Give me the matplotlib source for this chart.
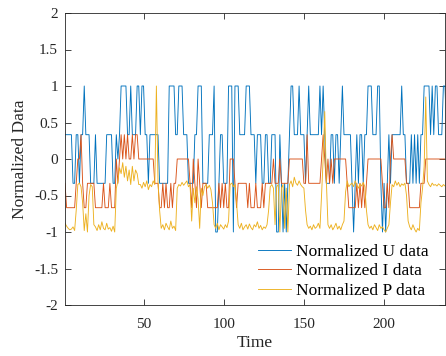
import matplotlib
matplotlib.use("Agg")
import matplotlib.pyplot as plt
import numpy as np

# normalized U data (239 samples)
u_data = [
    0.333, 0.333, 0.333, 0.333, 0.333, -0.333, -0.333, 0.333, 0.333, -0.333,
    0.333, 0.333, 1, 0.333, 0.333, 0.333, -0.333, -0.333, -0.333, 0.333,
    -0.333, -0.333, -0.333, -0.333, -0.333, -0.333, 0.333, 0.333, 0.333, 0.333,
    -0.333, -0.333, 0.333, 0, 0.333, 1, 1, 1, 1, 0.333,
    0.333, 1, 0.333, 0.333, 0.333, 1, 1, 0.333, 1, 1,
    0.333, 0.333, -0.333, 0.333, 0.333, 0.333, 0.333, 0.333, 0.333, -0.333,
    -0.333, -0.333, -0.333, -0.333, -0.333, 1, 1, 1, 1, 0.333,
    0.333, 1, 1, 1, 0.333, 0.333, 0.333, -0.333, -0.333, -0.333,
    -0.333, 0.333, 0.333, 1, 1, 1, -0.333, -0.333, -0.333, -0.333,
    0.333, 0.333, 0.333, 1, -1, -1, -0.333, 0.333, 0.333, -0.333,
    -0.333, -0.333, 1, 1, 1, -1, 1, 1, 1, 0.333,
    0.333, 0.333, 0.333, 1, 1, 1, 0.333, 0.333, 0.333, -0.333,
    0.333, 0.333, 0.333, -0.333, -0.333, 0.333, 0.333, -0.333, -0.333, 0.333,
    0.333, 0.333, -1, -1, 0.333, -0.333, -1, -0.333, -1, -0.333,
    0.333, 1, 1, 0.333, 0.333, 0.333, 1, 0.333, 0.333, 0.333,
    -0.333, 0.333, 1, 0.333, 0.333, 0.333, 0.333, 0.333, 0.333, 1,
    0.333, 1, 0.333, -0.333, -0.333, -0.333, 0.333, 0.333, -0.333, 0.333,
    0.333, -0.333, 0.333, 1, 0.333, 0.333, 0.333, 0.333, 0.333, -0.333,
    -1, -0.333, 0.333, -0.333, 0.333, 0.333, -0.333, 0.333, 0.333, 1,
    1, 1, 0.333, 0.333, 0.333, 1, 1, -0.333, -1, -0.333,
    -1, -0.333, 0.333, -0.333, 0.333, 0.333, 0.333, 0.333, 0.333, 0.333,
    1, 0.333, 0.333, -0.333, -0.333, -0.333, 0.333, -0.333, 0.333, -0.333,
    0.333, -0.333, 0.333, 0.333, 1, 1, 1, 1, 0.333, 1,
    0.333, 1, 1, 0.333, 0.333, 0.333, 1, 1, 0.333,
]

# normalized I data
i_data = [
    -0.333, -0.667, -0.667, -0.667, -0.667, -0.667, -0.667, -0.333, 0, 0,
    0.333, -0.333, -0.667, -0.667, -0.333, -0.333, -0.333, -0.333, -0.333, -0.667,
    -0.667, -0.667, -0.667, -0.667, -0.333, -0.667, -0.667, -0.667, -0.333, -0.667,
    -0.667, -0.667, 0, -0.333, 0, 0.333, 0, 0.333, 0, 0.333,
    0, 0, 0.333, 0, 0.333, 0.333, 0, 0, 0, 0,
    0, 0, 0, 0, 0, 0, -0.333, -0.333, -0.333, -0.667,
    -0.667, -0.333, -0.667, -0.333, -0.667, -0.667, -0.333, -0.667, -0.333, -0.333,
    0, 0, 0, 0, 0, 0, 0, 0, -0.333, -0.667,
    0, -0.333, -0.667, 0, -0.333, -0.667, -0.333, -0.333, -0.333, -0.667,
    -0.667, -0.667, -0.667, -0.667, -0.667, -0.667, -0.333, -0.667, -0.333, -0.667,
    -0.333, -0.667, -0.667, 0, 0, 0, -0.333, -0.667, -0.333, -0.333,
    -0.333, -0.333, -0.333, -0.333, -0.667, -0.333, -0.667, -0.667, -0.667, -0.333,
    -0.667, -0.667, -0.667, -0.333, -0.667, -0.333, -0.333, -0.333, -0.333, -0.333,
    0, -0.333, -0.333, -0.333, 0, -0.333, -0.333, -0.333, -0.333, -0.333,
    0, 0, 0, 0, 0, 0, 0, 0, 0, -0.333,
    -0.333, 0.333, -0.333, -0.333, -0.333, -0.333, -0.333, -0.333, -0.333, -0.333,
    0, 0.333, 0, -0.333, 0, -0.333, 0, -0.333, 0, 0,
    0, 0, 0, 0, 0, 0, -0.333, -0.667, -0.667, -0.667,
    -0.667, -0.667, -0.333, -0.667, -0.333, -0.667, -0.333, -0.667, -0.333, 0,
    0, 0, 0, 0, 0, 0, 0, 0, -0.333, -0.667,
    -0.667, -0.333, -0.667, 0, 0.333, 0, 0, 0, 0, 0,
    0, 0, 0, -0.333, -0.333, -0.667, -0.667, -0.667, -0.667, -0.667,
    -0.667, -0.667, -0.333, -0.333, -0.333, 0, 0, 0, 0, 0,
    0, 0, 0, 0, 0, 0, 0, 0, 0,
]

# normalized P data
p_data = [
    -0.88, -0.92, -0.95, -0.97, -0.96, -0.93, -0.98, -0.7, -0.35, -0.33,
    -0.38, -0.6, -0.98, -0.75, -1.0, -0.5, -0.35, -0.38, -0.9, -0.93,
    -0.98, -0.9, -0.97, -0.86, -0.95, -0.97, -0.88, -0.96, -0.94, -0.99,
    -0.92, -1.0, -0.4, -0.3, -0.12, -0.2, -0.05, -0.25, -0.1, -0.3,
    -0.15, -0.35, -0.1, -0.3, -0.15, -0.2, -0.35, -0.35, -0.4, -0.32,
    -0.38, -0.3, -0.42, -0.35, -0.38, -0.3, -0.35, 1.0, -0.3, -0.7,
    -0.95, -0.9, -0.97, -0.88, -0.93, -0.97, -0.85, -0.95, -0.92, -0.98,
    -0.4, -0.35, -0.37, -0.32, -0.36, -0.33, -0.3, -0.38, -0.35, -0.85,
    -0.4, -0.6, -0.38, -0.55, -0.95, -0.4, -0.5, -0.38, -0.35, -0.4,
    -0.36, -0.42, -0.6, -0.9, -0.95, -0.88, -0.97, -0.9, -0.93, -0.96,
    -0.9, -0.94, -0.85, -0.35, -0.33, -0.38, -0.35, -0.6, -0.9, -0.95,
    -0.88, -0.97, -0.93, -0.9, -0.96, -0.89, -0.94, -0.97, -0.9, -0.93,
    -0.86, -0.95, -0.91, -0.97, -0.93, -0.95, -0.9, -0.7, -0.38, -0.35,
    -0.4, -0.9, -0.38, -0.35, -1.0, -0.4, -0.35, -0.95, -0.4, -1.0,
    -0.35, -0.3, -0.38, -0.25, -0.33, -0.36, -0.3, -0.35, -0.38, -0.4,
    -0.7, -0.9, -0.95, -0.92, -0.97, -0.9, -0.95, -0.93, -0.88, -0.95,
    -0.5, 0.0, 0.65, -0.3, -0.9, -0.95, -0.9, -0.97, -0.93, -0.88,
    -0.96, -0.92, -0.97, -0.9, -0.85, -0.45, -0.3, -0.38, -0.35, -0.33,
    -0.38, -0.3, -0.36, -0.4, -0.34, -0.37, -0.32, -0.38, -0.7, -0.9,
    -0.95, -0.92, -0.97, -0.9, -0.94, -0.98, -0.9, -0.95, -0.93, -0.97,
    -1.0, -0.95, -0.9, -0.6, -0.35, -0.38, -0.3, -0.36, -0.32, -0.38,
    -0.34, -0.36, -0.33, -0.5, -0.85, -0.93, -0.97, -0.9, -0.96, -1.0,
    -0.95, -0.98, -0.6, -0.4, -0.1, 0.85, -0.3, -0.35, -0.38, -0.33,
    -0.36, -0.35, -0.37, -0.34, -0.36, -0.38, -0.35, -0.37, -0.38,
]

labels = ['Normalized U data', 'Normalized I data', 'Normalized P data']
colors = ['#0072BD', '#D95319', '#EDB120']

plt.rcParams['font.family'] = ['Liberation Serif', 'DejaVu Serif']
plt.rcParams['axes.unicode_minus'] = False

t = np.arange(1, len(u_data) + 1)

fig = plt.figure(figsize=(4.46, 3.56), dpi=100)
ax = fig.add_axes([65 / 446, 51 / 356, 380 / 446, 292 / 356])

for series, lab, col in zip([u_data, i_data, p_data], labels, colors):
    ax.plot(t, series, color=col, linewidth=0.65, label=lab)

ax.set_xlim(1, 238)
ax.set_ylim(-2, 2)
ax.set_xticks([50, 100, 150, 200])
ax.set_yticks(np.arange(-2, 2.01, 0.5))
ax.set_yticklabels(['-2', '-1.5', '-1', '-0.5', '0', '0.5', '1', '1.5', '2'])

grey = '#262626'
for s in ax.spines.values():
    s.set_color(grey)
    s.set_linewidth(0.6)
ax.tick_params(direction='in', length=4, width=0.6, colors=grey,
               labelsize=11, top=True, right=True, pad=5)
ax.tick_params(axis='x', pad=9)
for lbl in ax.get_xticklabels() + ax.get_yticklabels():
    lbl.set_color(grey)

ax.set_xlabel('Time', fontsize=12.5, color=grey, labelpad=3)
ax.set_ylabel('Normalized Data', fontsize=12.5, color=grey, labelpad=4)

ax.legend(loc='lower right', bbox_to_anchor=(0.985, -0.015), frameon=False,
          fontsize=12.5, handlelength=1.9, handletextpad=0.3,
          labelspacing=0.2, borderaxespad=0.2)

fig.savefig('out.png', dpi=100)
